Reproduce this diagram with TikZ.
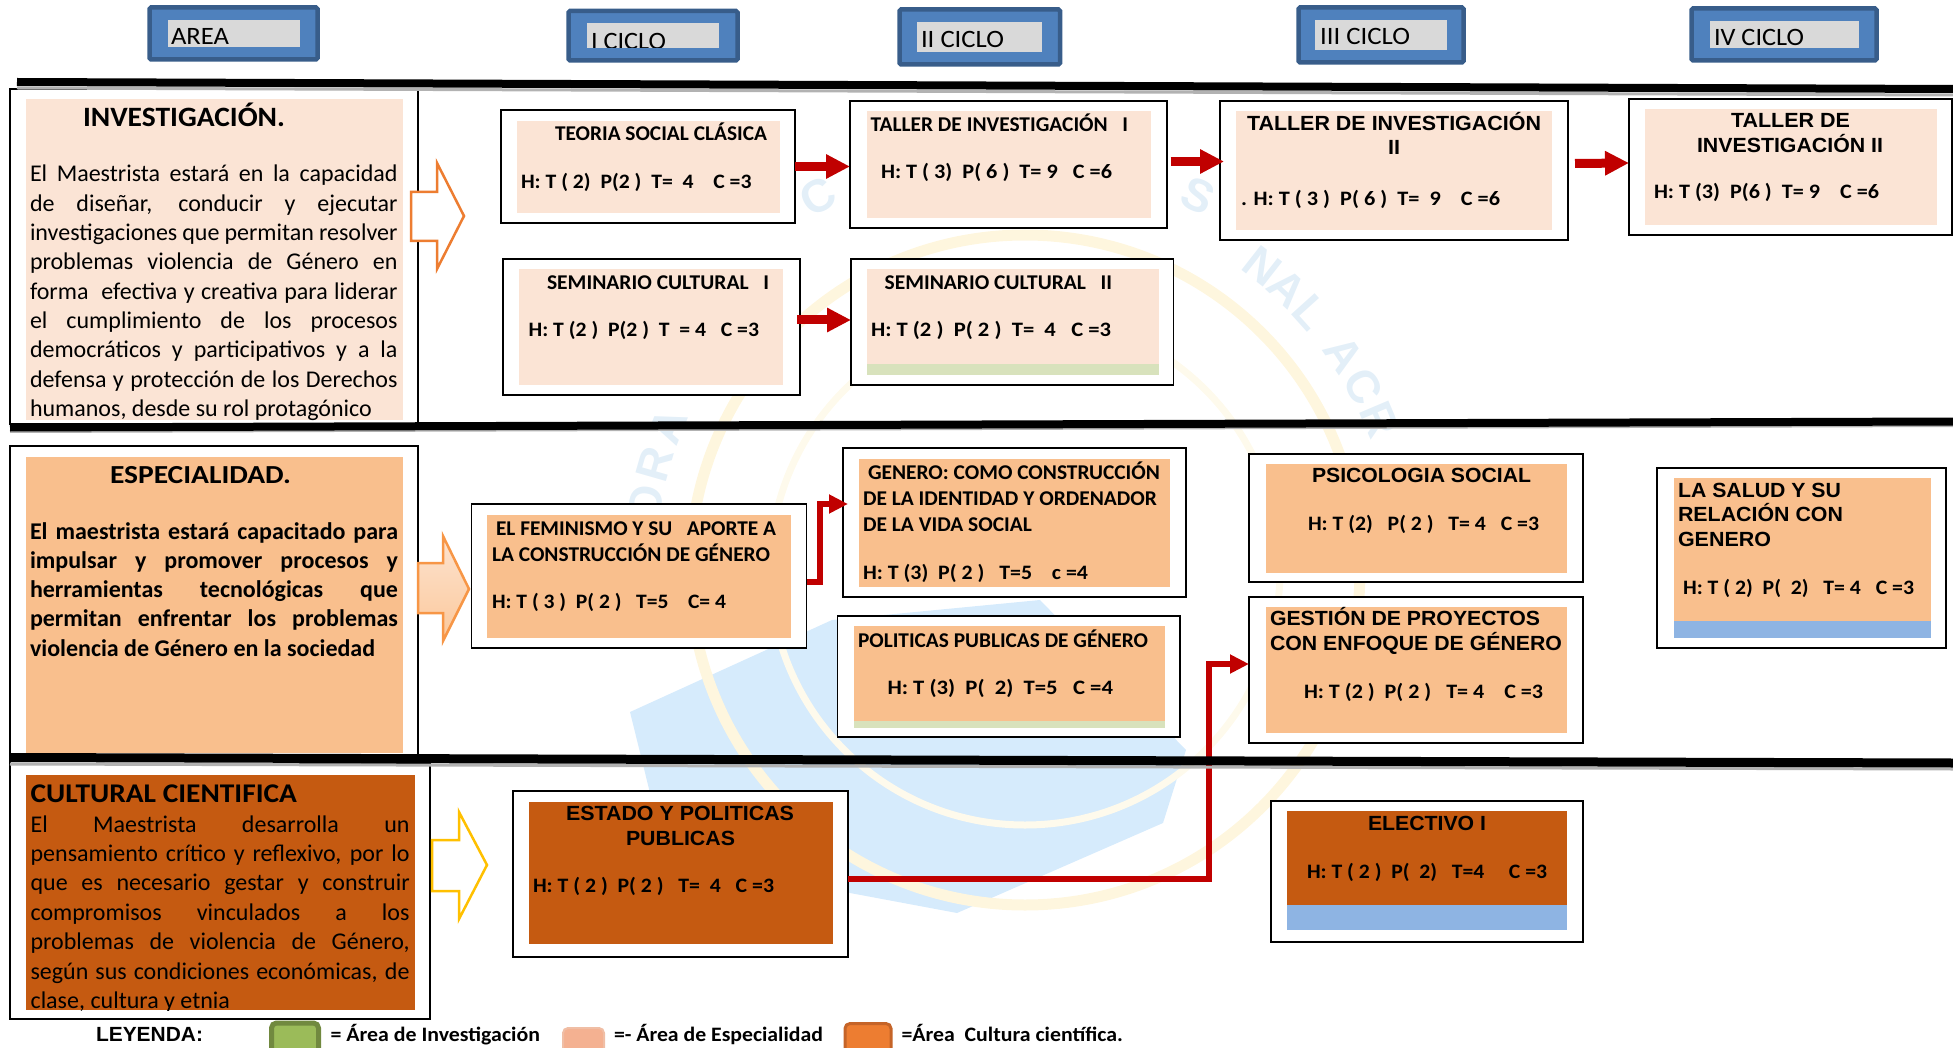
\documentclass[tikz,border=0pt]{standalone}
\usepackage{fontspec}
\usepackage{graphicx}
\usetikzlibrary{arrows.meta,fit,calc}
\setmainfont{Carlito}
\newfontfamily\arialf{Liberation Sans}
\newcommand{\fsz}[1]{\fontsize{#1}{#1}\selectfont}
\definecolor{invfill}{HTML}{FBE4D5}
\definecolor{espfill}{HTML}{F9BF8D}
\definecolor{culfill}{HTML}{C55A11}
\definecolor{grnbar}{HTML}{D8E2BC}
\definecolor{blubar}{HTML}{8EB4E3}
\definecolor{hdrblue}{HTML}{4F81BD}
\definecolor{hdredge}{HTML}{385D8A}
\definecolor{hdrgray}{HTML}{D9D9D9}
\definecolor{redarrow}{HTML}{C00000}
\definecolor{wmblue}{HTML}{D6EBFC}
\definecolor{wmyellow}{HTML}{FEF6DE}
\definecolor{wmyellowb}{HTML}{FEFAEC}
\definecolor{wmtext}{HTML}{E3EFF8}
\definecolor{arrowor}{HTML}{ED7D31}
\definecolor{arrowpe}{HTML}{F79646}
\definecolor{arrowye}{HTML}{FFC000}
\definecolor{arrowtop}{HTML}{FDE3CF}
\definecolor{arrowbot}{HTML}{FBC89B}
\tikzset{
  outerbox/.style={draw=black,line width=1.3pt,fill=white,inner sep=0pt,outer sep=0pt},
  innerbox/.style={fill=#1,draw=none,inner sep=0pt,outer sep=0pt},
  hdrbox/.style={draw=hdredge,line width=4.5pt,fill=hdrblue,rounded corners=1.5pt,inner sep=0pt,outer sep=0pt},
  hdrin/.style={fill=hdrgray,draw=none,inner sep=0pt,outer sep=0pt},
  lbl/.style={anchor=base west,inner sep=0pt,outer sep=0pt},
  blockarrow/.style={draw=redarrow,line width=9pt,-{Triangle[length=24pt,width=23pt,fill=redarrow]}},
  thinarrow/.style={draw=redarrow,line width=5.5pt,miter limit=10,-{Triangle[length=19pt,width=18pt,fill=redarrow]}},
  rule/.style={draw=black,line width=8pt},
  ruleshade/.style={draw=black!30,line width=3pt},
  areaarrow/.style={line width=2.5pt,miter limit=10},
  wmletter/.style={text=wmtext,inner sep=0pt,font=\arialf\bfseries\fsz{46}},
}
\newcommand{\boxout}[5]{\node[outerbox,fit={(#2,#3)(#4,#5)}] (#1) {};}
\newcommand{\boxin}[6]{\node[innerbox=#6,fit={(#2,#3)(#4,#5)}] (#1) {};}
\newcommand{\lblx}[6]{\node[lbl] (#1) at (#2,#3) {\resizebox{\dimexpr#4pt-#2pt\relax}{\height}{#5#6}};}
\newcommand{\HL}{\bfseries\fsz{20.5}}
\newcommand{\TL}{\bfseries\fsz{21}}
\newcommand{\AL}{\arialf\bfseries\fsz{20.5}}
\begin{document}
\begin{tikzpicture}[x=1pt,y=-1pt]
\useasboundingbox (0,0) rectangle (1953,1048);
\begin{scope}
\clip (0,0) rectangle (1953,1048);
% watermark
\fill[wmblue] (630,712) -- (832,620) -- (1040,600) -- (1186,750) -- (1163,823) -- (957,913) -- (850,893) -- (650,793) -- cycle;
\draw[wmyellow,line width=11pt] (1025,570) circle[radius=335];
\draw[wmyellowb,line width=7pt] (1025,570) circle[radius=255];
\foreach \c/\a in {N/52,A/47,L/42,A/34,C/28.5,R/23,O/170,R/164,A/158}{
  \node[wmletter,rotate=\a-90] (wm\a) at ({1025+385*cos(\a)},{570-385*sin(\a)}) {\c};
}
\node[wmletter,rotate=30] (wmC) at (818,196) {C};
\node[wmletter,rotate=-25] (wmS) at (1198,196) {S};
% headers
\node[hdrbox,fit={(149.5,7.5)(317.5,59.5)}] (hA) {};
\node[hdrin,fit={(168,20)(300,47)}] (hAi) {};
\lblx{tA}{171}{45}{229}{\fsz{25}}{AREA}
\node[hdrbox,fit={(568.5,11)(737.5,60.5)}] (hB) {};
\node[hdrin,fit={(587,23)(719,48)}] (hBi) {};
\begin{scope}
\clip (587,23) rectangle (719,48);
\lblx{tB}{591}{49.5}{666}{\fsz{25}}{I CICLO}
\end{scope}
\node[hdrbox,fit={(899.5,9.5)(1060,64.5)}] (hC) {};
\node[hdrin,fit={(917,22)(1042,52)}] (hCi) {};
\lblx{tC}{921}{48}{1004}{\fsz{25}}{II CICLO}
\node[hdrbox,fit={(1298.5,7.5)(1463.5,62.5)}] (hD) {};
\node[hdrin,fit={(1315,20)(1447,50)}] (hDi) {};
\lblx{tD}{1320}{45}{1410}{\fsz{25}}{III CICLO}
\node[hdrbox,fit={(1691.5,8.5)(1876.5,60.5)}] (hE) {};
\node[hdrin,fit={(1710,21)(1859,48)}] (hEi) {};
\lblx{tE}{1714}{46}{1804}{\fsz{25}}{IV CICLO}
% left area boxes
\boxout{invO}{10}{89}{418}{424}
\boxin{invI}{26}{99}{403}{420}{invfill}
\lblx{invT}{83}{127}{285}{\bfseries\fsz{28}}{INVESTIGACIÓN.}
\node[lbl] (invB) at (30,182) {\parbox[t]{367.5pt}{\fsz{24}\baselineskip=29.3pt\tolerance=10000\hbadness=10000
El Maestrista estará en la capacidad\linebreak de diseñar, conducir y ejecutar\linebreak investigaciones que permitan resolver\linebreak problemas violencia de Género en\linebreak forma~ efectiva y creativa para liderar\linebreak el cumplimiento de los procesos\linebreak democráticos y participativos y a la\linebreak defensa y protección de los Derechos\linebreak humanos, desde su rol protagónico}};
\boxout{espO}{10}{446}{418}{764}
\boxin{espI}{26}{457}{403}{753}{espfill}
\lblx{espT}{110}{483}{291}{\bfseries\fsz{26}}{ESPECIALIDAD.}
\node[lbl] (espB) at (30,539) {\parbox[t]{368pt}{\fsz{24}\bfseries\baselineskip=29.3pt\tolerance=10000\hbadness=10000
El maestrista estará capacitado para\linebreak impulsar y promover procesos y\linebreak herramientas tecnológicas que\linebreak permitan enfrentar los problemas\linebreak violencia de Género en la sociedad}};
\boxout{culO}{10}{764}{430}{1019}
\boxin{culI}{26}{775}{415}{1010}{culfill}
\lblx{culT}{30.6}{802}{297}{\bfseries\fsz{27}}{CULTURAL CIENTIFICA}
\begin{scope}
\clip (26,775) rectangle (415,1010);
\node[lbl] (culB) at (30.6,832) {\parbox[t]{379pt}{\fsz{24}\baselineskip=29.4pt\tolerance=10000\hbadness=10000
El Maestrista desarrolla un\linebreak pensamiento crítico y reflexivo, por lo\linebreak que es necesario gestar y construir\linebreak compromisos vinculados a los\linebreak problemas de violencia de Género,\linebreak según sus condiciones económicas, de\linebreak clase, cultura y etnia}};
\end{scope}
% big area arrows
\draw[areaarrow,draw=arrowor,fill=white] (411,192) -- (437,192) -- (437,163) -- (464,216) -- (437,269) -- (437,241) -- (411,241) -- cycle;
\draw[areaarrow,draw=arrowpe,top color=arrowtop,bottom color=arrowbot] (418,563) -- (443,563) -- (443,536) -- (469,589) -- (443,641) -- (443,613) -- (418,613) -- cycle;
\draw[areaarrow,draw=arrowye,fill=white] (432,840) -- (459,840) -- (459,812) -- (487,865) -- (459,919) -- (459,891) -- (432,891) -- cycle;
% investigacion row
\boxout{teoO}{501}{110}{795}{223}
\boxin{teoI}{517}{121}{780}{213}{invfill}
\lblx{teoT}{555}{141}{767}{\TL}{TEORIA SOCIAL CLÁSICA}
\lblx{teoH}{521}{189}{751.5}{\HL}{H: T ( 2)~ P(2 )~ T=~ 4~~~ C =3}
\boxout{semAO}{503}{259}{800}{395}
\boxin{semAI}{519}{269}{783}{385}{invfill}
\lblx{semAT}{547}{290}{769}{\TL}{SEMINARIO CULTURAL~~ I}
\lblx{semAH}{528.6}{337}{759}{\HL}{H: T (2 )~ P(2 )~ T~ = 4~~ C =3}
\boxout{talAO}{850}{101}{1167}{228}
\boxin{talAI}{867}{111}{1151}{218}{invfill}
\lblx{talAT}{870.6}{132}{1128}{\TL}{TALLER DE INVESTIGACIÓN~~ I}
\lblx{talAH}{881}{179}{1112}{\HL}{H: T ( 3)~ P( 6 )~ T= 9~~ C =6}
\boxout{semBO}{851}{259}{1173.5}{385}
\boxin{semBI}{867}{269}{1159}{375}{invfill}
\boxin{semBG}{867}{364}{1159}{375}{grnbar}
\lblx{semBT}{884.6}{290}{1112}{\TL}{SEMINARIO CULTURAL~~ II}
\lblx{semBH}{871}{337}{1111}{\HL}{H: T (2 )~ P( 2 )~ T=~ 4~~ C =3}
\boxout{talBO}{1220}{101}{1568}{240}
\boxin{talBI}{1236}{111}{1552}{230}{invfill}
\lblx{talBT}{1247}{131}{1541}{\AL}{TALLER DE INVESTIGACIÓN}
\lblx{talBTb}{1388}{155}{1400}{\AL}{II}
\lblx{talBH}{1241}{206}{1500}{\HL}{. H: T ( 3 )~ P( 6 )~ T=~ 9~~~ C =6}
\boxout{talCO}{1629}{99}{1952}{235}
\boxin{talCI}{1645}{109}{1937}{225}{invfill}
\lblx{talCT}{1731}{128}{1850}{\AL}{TALLER DE}
\lblx{talCTb}{1697}{153}{1883}{\AL}{INVESTIGACIÓN II}
\lblx{talCH}{1654}{199}{1879}{\HL}{H: T (3)~ P(6 )~ T= 9~~~ C =6}
% especialidad row
\boxout{femO}{471.5}{504}{806.5}{648}
\boxin{femI}{487}{515}{791}{638}{espfill}
\lblx{femT}{496}{535}{776}{\TL}{EL FEMINISMO Y SU~~ APORTE A}
\lblx{femTb}{492}{561}{770}{\TL}{LA CONSTRUCCIÓN DE GÉNERO}
\lblx{femH}{492}{608}{726}{\HL}{H: T ( 3 )~ P( 2 )~~ T=5~~~ C= 4}
\boxout{genO}{843}{448}{1186}{597}
\boxin{genI}{859}{459}{1170}{587}{espfill}
\lblx{genT}{868}{479}{1160}{\TL}{GENERO: COMO CONSTRUCCIÓN}
\lblx{genTb}{863}{505}{1157}{\TL}{DE LA IDENTIDAD Y ORDENADOR}
\lblx{genTc}{863}{531}{1032}{\TL}{DE LA VIDA SOCIAL}
\lblx{genH}{863}{579}{1088}{\HL}{H: T (3)~ P( 2 )~~ T=5~~~ c =4}
\boxout{polO}{837.5}{616}{1180}{737}
\boxin{polI}{854}{626}{1165}{728}{espfill}
\boxin{polG}{854}{721}{1165}{728}{grnbar}
\lblx{polT}{858}{647}{1148}{\TL}{POLITICAS PUBLICAS DE GÉNERO}
\lblx{polH}{887.5}{694}{1113}{\HL}{H: T (3)~ P(~ 2)~ T=5~~ C =4}
\boxout{psiO}{1249}{454}{1583}{582}
\boxin{psiI}{1266}{464}{1567}{573}{espfill}
\lblx{psiT}{1312}{482}{1531}{\AL}{PSICOLOGIA SOCIAL}
\lblx{psiH}{1308}{530}{1539}{\HL}{H: T (2)~~ P( 2 )~~ T= 4~~ C =3}
\boxout{gesO}{1249}{597}{1583}{743}
\boxin{gesI}{1266}{607}{1567}{733}{espfill}
\lblx{gesT}{1270}{625}{1540}{\AL}{GESTIÓN DE PROYECTOS}
\lblx{gesTb}{1270}{650}{1562}{\AL}{CON ENFOQUE DE GÉNERO}
\lblx{gesH}{1304}{698}{1543}{\HL}{H: T (2 )~ P( 2 )~~ T= 4~~~ C =3}
\boxout{salO}{1657}{468}{1946}{648}
\boxin{salI}{1674}{478}{1931}{638}{espfill}
\boxin{salG}{1674}{621}{1931}{638}{blubar}
\lblx{salT}{1678}{497}{1841}{\AL}{LA SALUD Y SU}
\lblx{salTb}{1678}{521}{1843}{\AL}{RELACIÓN CON}
\lblx{salTc}{1678}{546}{1771}{\AL}{GENERO}
\lblx{salH}{1683}{594}{1914}{\HL}{H: T ( 2)~ P(~ 2)~~ T= 4~~ C =3}
% cultural row
\boxout{estO}{513}{791}{848}{957}
\boxin{estI}{529}{802}{833}{944}{culfill}
\lblx{estT}{566}{820}{794}{\AL}{ESTADO Y POLITICAS}
\lblx{estTb}{626}{845}{735}{\AL}{PUBLICAS}
\lblx{estH}{533}{892}{774}{\HL}{H: T ( 2 )~ P( 2 )~~ T=~ 4~~ C =3}
\boxout{eleO}{1271}{801}{1583}{942}
\boxin{eleI}{1287}{811}{1567}{905}{culfill}
\boxin{eleG}{1287}{905}{1567}{930}{blubar}
\lblx{eleT}{1368}{830}{1486}{\AL}{ELECTIVO I}
\lblx{eleH}{1307}{878}{1547}{\HL}{H: T ( 2 )~ P(~ 2)~~ T=4~~~~ C =3}
% connectors
\draw[blockarrow] (teoO.east) -- (teoO.east -| talAO.west);
\draw[blockarrow] ([xshift=3.5pt,yshift=3pt]talAO.east) -- ([xshift=4pt,yshift=9pt]talBO.west);
\draw[blockarrow] ([xshift=7pt,yshift=7pt]talBO.east) -- ([yshift=4pt]talCO.west);
\draw[blockarrow] ([xshift=-3pt,yshift=7pt]semAO.east) -- ([yshift=2pt]semBO.west);
\coordinate (elbowA) at (820,504);
\draw[thinarrow] ([yshift=-6pt]femO.east) -| (elbowA) -- ([xshift=5pt,yshift=18.5pt]genO.west);
\coordinate (elbowB) at (1209,664);
\draw[thinarrow] ([yshift=-5pt]estO.east) -| (elbowB) -- ([yshift=6pt]gesO.west);
% rules
\draw[ruleshade] (17,88) -- (1953,95);
\draw[rule] (17,82) -- (1953,89);
\draw[ruleshade] (10,431.5) -- (1953,425.5);
\draw[rule] (10,427.5) -- (1953,421.5);
\draw[ruleshade] (10,764) -- (1953,769);
\draw[rule,line width=9pt] (10,757.5) -- (1953,763);
% legend
\lblx{leyT}{96}{1041}{203}{\AL}{LEYENDA:}
\node[draw={rgb,255:red,113;green,137;blue,63},fill={rgb,255:red,155;green,187;blue,89},line width=5pt,rounded corners=5pt,inner sep=0pt,fit={(271.5,1023)(318.5,1062)}] (leyA) {};
\lblx{leyAt}{330.6}{1041}{540}{\bfseries\fsz{20.5}}{= Área de Investigación}
\node[draw={rgb,255:red,240;green,190;blue,165},fill={rgb,255:red,244;green,177;blue,145},line width=2pt,rounded corners=5pt,inner sep=0pt,fit={(563,1028)(604,1062)}] (leyB) {};
\lblx{leyBt}{614}{1041}{823}{\bfseries\fsz{20.5}}{=- Área de Especialidad}
\node[draw={rgb,255:red,197;green,100;blue,40},fill={rgb,255:red,237;green,125;blue,49},line width=3pt,rounded corners=5pt,inner sep=0pt,fit={(845,1023.5)(891,1062)}] (leyC) {};
\lblx{leyCt}{901.5}{1041}{1123}{\bfseries\fsz{20.5}}{=Área~ Cultura científica.}
\end{scope}
\end{tikzpicture}
\end{document}
